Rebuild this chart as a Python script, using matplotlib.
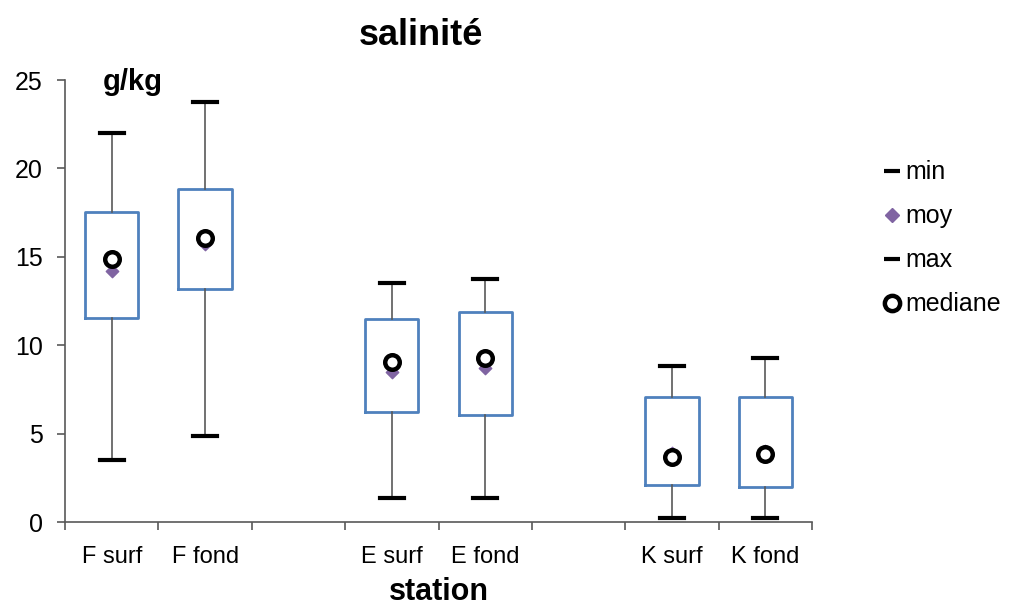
import numpy as np
import matplotlib.pyplot as plt
from matplotlib.lines import Line2D

plt.rcParams['font.family'] = ['Liberation Sans', 'DejaVu Sans']

stations = ['F surf', 'F fond', '', 'E surf', 'E fond', '', 'K surf', 'K fond']
labels = ['F surf', 'F fond', 'E surf', 'E fond', 'K surf', 'K fond']
pos = [0, 1, 3, 4, 6, 7]
mins = [3.5, 4.85, 1.35, 1.35, 0.25, 0.25]
q1 = [11.55, 13.2, 6.2, 6.05, 2.1, 2.0]
q3 = [17.55, 18.85, 11.5, 11.9, 7.05, 7.05]
maxs = [22.0, 23.75, 13.5, 13.75, 8.8, 9.3]
med = [14.85, 16.05, 9.05, 9.25, 3.65, 3.85]
moy = [14.2, 15.7, 8.5, 8.7, 3.9, 4.0]

fig = plt.figure(figsize=(10.1, 6.08), dpi=100)
ax = fig.add_axes([0.0644, 0.1414, 0.7396, 0.727])

stats = []
for i in range(len(labels)):
    stats.append(dict(label=labels[i], whislo=mins[i], q1=q1[i], med=med[i],
                      q3=q3[i], whishi=maxs[i]))

ax.bxp(stats, positions=pos, widths=0.57, showfliers=False, patch_artist=False,
       boxprops=dict(color='#4F81BD', linewidth=2.0),
       whiskerprops=dict(color='#595959', linewidth=1.2),
       capprops=dict(color='black', linewidth=3.0),
       capwidths=0.26,
       medianprops=dict(linewidth=0))
ax.scatter(pos, moy, marker='D', s=40, color='#8064A2', zorder=3)
ax.scatter(pos, med, marker='o', s=110, facecolor='white', edgecolor='black',
           linewidth=3.2, zorder=4)

ax.set_xlim(-0.5, 7.5)
ax.set_ylim(0, 25)
ax.set_yticks([0, 5, 10, 15, 20, 25])
ax.set_xticks(range(len(stations)))
ax.set_xticklabels(stations)
ax.set_xticks(np.arange(-0.5, 8.0, 1.0), minor=True)
ax.tick_params(axis='x', which='major', length=0, pad=17, labelsize=17)
ax.tick_params(axis='x', which='minor', length=6, width=1.2, color='#595959')
ax.tick_params(axis='y', length=6, width=1.2, color='#595959', labelsize=18, pad=10)
for s in ['top', 'right']:
    ax.spines[s].set_visible(False)
for s in ['left', 'bottom']:
    ax.spines[s].set_color('#595959')
    ax.spines[s].set_linewidth(1.2)

ax.set_title('salinité', fontsize=26, fontweight='bold', pad=25, x=0.477)
ax.set_xlabel('station', fontsize=22, fontweight='bold', labelpad=7)
ax.text(0.05, 0.995, 'g/kg', transform=ax.transAxes, fontsize=21, fontweight='bold',
        va='center', ha='left')

handles = [
    Line2D([], [], color='black', marker='_', linestyle='none', markersize=11, markeredgewidth=3),
    Line2D([], [], color='#8064A2', marker='D', linestyle='none', markersize=7),
    Line2D([], [], color='black', marker='_', linestyle='none', markersize=11, markeredgewidth=3),
    Line2D([], [], color='black', marker='o', markerfacecolor='white', linestyle='none',
           markersize=11, markeredgewidth=3.2),
]
fig.legend(handles, ['min', 'moy', 'max', 'mediane'], loc='center left',
           bbox_to_anchor=(0.853, 0.608), frameon=False, fontsize=18,
           handlelength=0.6, handletextpad=0.25, labelspacing=0.8)

fig.savefig('out.png', dpi=100)
